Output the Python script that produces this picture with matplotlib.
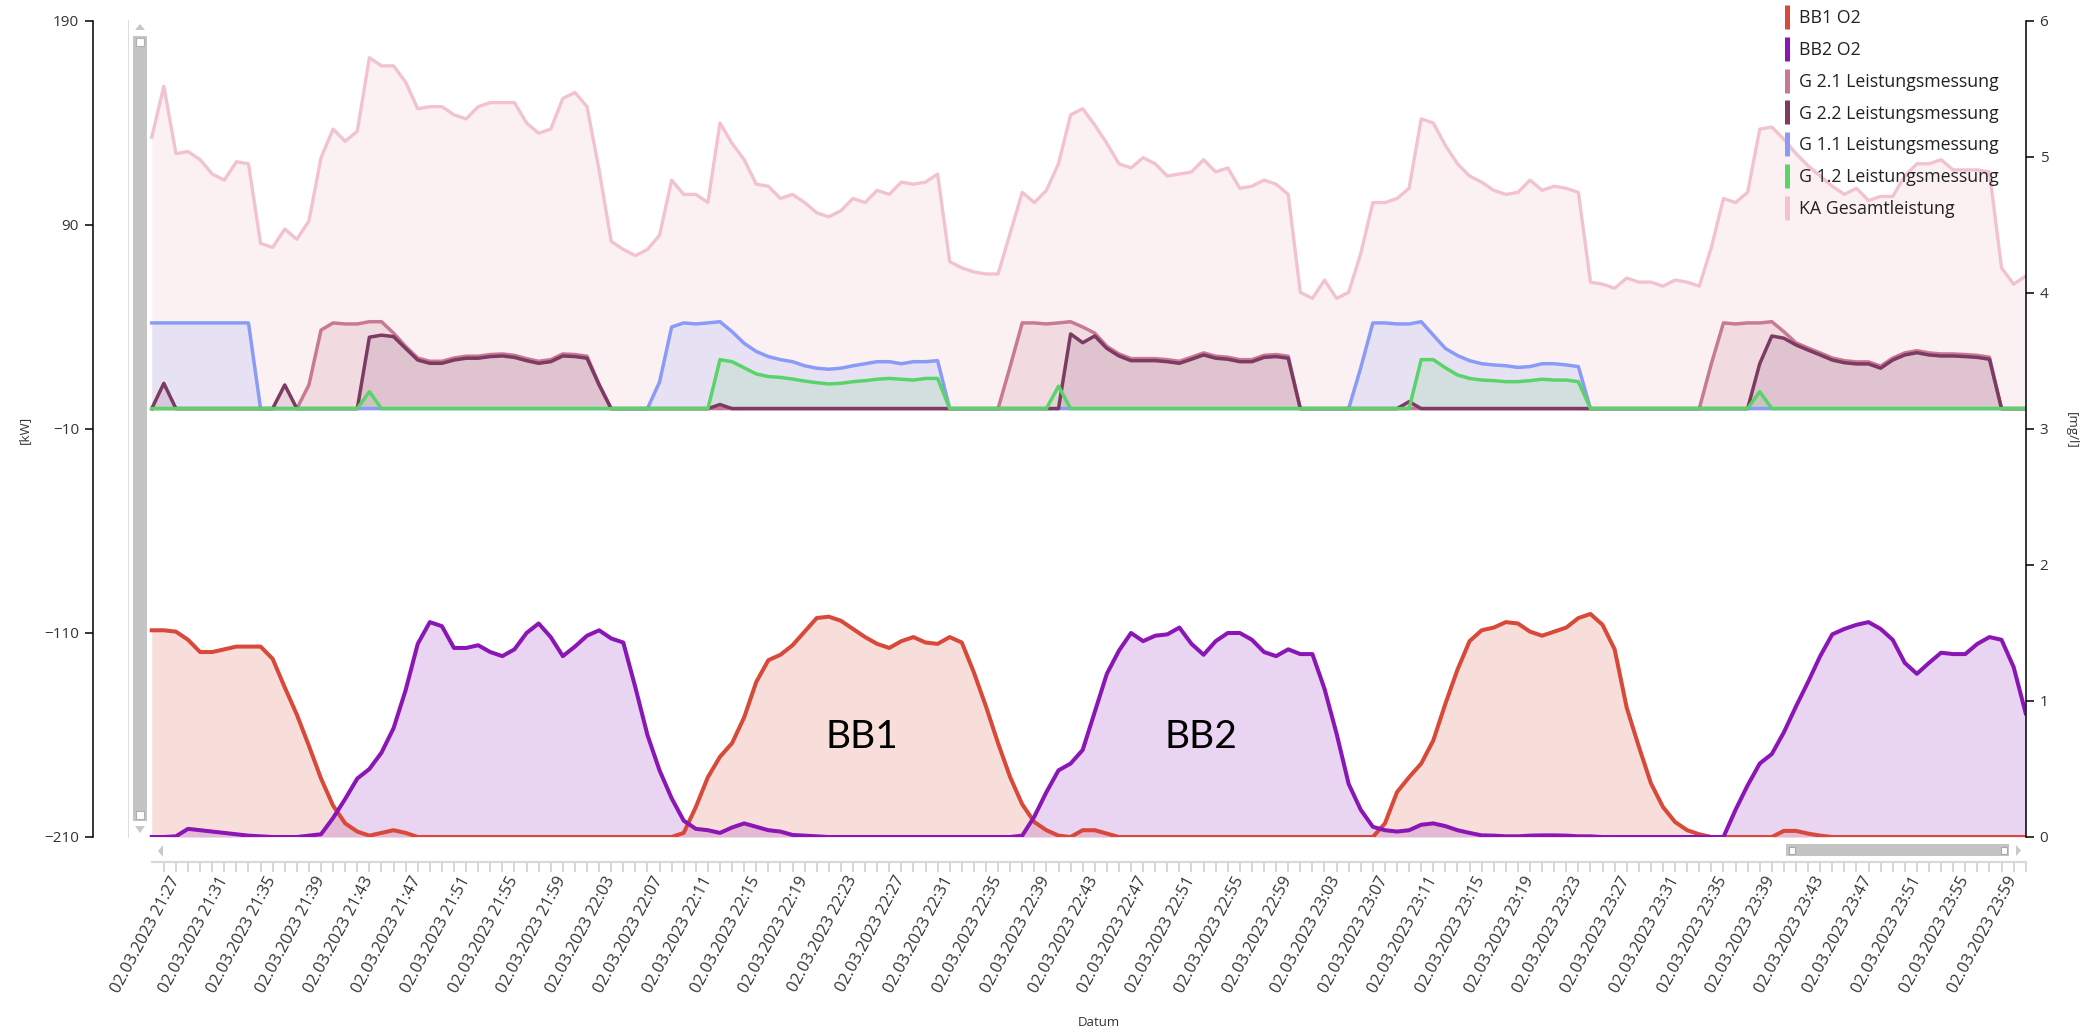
import pandas as pd
import matplotlib
matplotlib.use("Agg")
import matplotlib.pyplot as plt
import matplotlib.dates as mdates
from matplotlib.lines import Line2D
from matplotlib.patches import Rectangle, Polygon
from matplotlib.ticker import FixedLocator

plt.rcParams["font.family"] = ["Open Sans", "DejaVu Sans"]

# Messwerte, 1 Wert pro Minute ab 02.03.2023 21:25
zeit = pd.date_range("2023-03-02 21:25", periods=156, freq="min")

ka_gesamt = [133, 158, 125, 126, 122, 115, 112, 121, 120, 81,
             79, 88, 83, 92, 123, 137, 131, 136, 172, 168,
             168, 160, 147, 148, 148, 144, 142, 148, 150, 150,
             150, 140, 135, 137, 152, 155, 148, 117, 82, 78,
             75, 78, 85, 112, 105, 105, 101, 140, 130, 122,
             110, 109, 103, 105, 101, 96, 94, 97, 103, 101,
             107, 105, 111, 110, 111, 115, 72, 69, 67, 66,
             66, 86, 106, 101, 107, 120, 144, 147, 139, 130,
             120, 118, 123, 120, 114, 115, 116, 122, 116, 118,
             108, 109, 112, 110, 105, 57, 54, 63, 54, 57,
             76, 101, 101, 103, 108, 142, 140, 129, 120, 114,
             111, 107, 105, 106, 112, 107, 109, 108, 106, 62,
             61, 59, 64, 62, 62, 60, 63, 62, 60, 79,
             103, 101, 106, 137, 138, 132, 125, 119, 114, 109,
             105, 108, 102, 104, 104, 114, 120, 120, 122, 117,
             117, 117, 116, 69, 61, 65]

g11 = ([42] * 9 + [0] * 33
       + [13, 40, 42, 41.5, 42, 42.6, 37.7, 32, 28, 25.5,
          24, 23, 21, 19.8, 19.3, 19.8, 21, 22, 23, 23,
          22, 23, 23, 23.5]
       + [0] * 34
       + [20, 42, 42, 41.5, 41.5, 42.6, 36, 29.5, 26, 23.5,
          22, 21.4, 21, 20.2, 20.6, 22, 22, 21.4, 20.6]
       + [0] * 37)

g12 = ([0] * 18 + [8.3] + [0] * 28
       + [24, 23, 20, 17, 15.7, 15.3, 14.5, 13.5, 12.7, 12.1,
          12.4, 13.2, 13.7, 14.4, 14.8, 14.4, 14, 14.8, 14.8]
       + [0] * 9 + [11] + [0] * 29
       + [24, 24, 20, 16.5, 14.8, 14, 13.7, 13.2, 13.2, 13.7,
          14.4, 14, 14, 13.2]
       + [0] * 14 + [8.3] + [0] * 22)

g21 = ([0] * 13
       + [11.6, 38.5, 42, 41.5, 41.5, 42.6, 42.6, 37, 30.5, 24.8,
          23.2, 23.2, 24.8, 25.7, 25.7, 26.5, 26.8, 26.1, 24.5, 23.2,
          24, 26.8, 26.5, 25.7, 12]
       + [0] * 33
       + [20.6, 42, 42, 41.5, 42, 42.6, 40, 37, 30.5, 26.8,
          24.5, 24.5, 24.5, 24, 23.2, 25.2, 27.3, 25.7, 25.2, 24,
          24, 26.1, 26.5, 25.7]
       + [0] * 34
       + [22, 42, 41.5, 42, 42, 42.6, 37.7, 32.2, 29.7, 27.3,
          24.8, 23.5, 22.9, 22.9, 20.8, 24.8, 27.3, 28.4, 27.3, 26.8,
          26.8, 26.5, 26.1, 25.2]
       + [0] * 3)

g22 = ([0, 12.4] + [0] * 9 + [11.6] + [0] * 6
       + [35, 36, 35.3, 29.5, 23.8, 22.2, 22.2, 23.8, 24.7, 24.7,
          25.5, 25.8, 25.1, 23.5, 22.2, 23, 25.8, 25.5, 24.7, 11.6]
       + [0] * 9 + [2] + [0] * 28
       + [36.6, 32.3, 35.6, 29.5, 25.8, 23.5, 23.5, 23.5, 23, 22.2,
          24.2, 26.3, 24.7, 24.2, 23, 23, 25.1, 25.5, 24.7]
       + [0] * 9 + [3.4] + [0] * 28
       + [22, 35.6, 34.5, 31.2, 28.7, 26.3, 23.8, 22.5, 21.9, 21.9,
          19.8, 23.8, 26.3, 27.4, 26.3, 25.8, 25.8, 25.5, 25.1, 24.2]
       + [0] * 3)

bb1_o2 = [1.52, 1.52, 1.51, 1.45, 1.36, 1.36, 1.38, 1.40, 1.40, 1.40,
          1.31, 1.10, 0.90, 0.67, 0.43, 0.23, 0.10, 0.04, 0.01, 0.03,
          0.05, 0.03, 0, 0, 0, 0, 0, 0, 0, 0,
          0, 0, 0, 0, 0, 0, 0, 0, 0, 0,
          0, 0, 0, 0, 0.03, 0.22, 0.44, 0.59, 0.69, 0.88,
          1.14, 1.30, 1.34, 1.41, 1.51, 1.61, 1.62, 1.59, 1.53, 1.47,
          1.42, 1.39, 1.44, 1.47, 1.43, 1.42, 1.47, 1.43, 1.21, 0.96,
          0.69, 0.44, 0.24, 0.11, 0.05, 0.01, 0, 0.05, 0.05, 0.025,
          0, 0, 0, 0, 0, 0, 0, 0, 0, 0,
          0, 0, 0, 0, 0, 0, 0, 0, 0, 0,
          0, 0, 0.10, 0.33, 0.44, 0.54, 0.71, 0.98, 1.23, 1.44,
          1.52, 1.54, 1.58, 1.57, 1.51, 1.48, 1.51, 1.54, 1.61, 1.64,
          1.56, 1.38, 0.95, 0.665, 0.395, 0.22, 0.11, 0.05, 0.02, 0,
          0, 0, 0, 0, 0, 0.045, 0.045, 0.025, 0.01, 0,
          0, 0, 0, 0, 0, 0, 0, 0, 0, 0,
          0, 0, 0, 0, 0, 0]

bb2_o2 = [0, 0, 0.005, 0.06, 0.05, 0.04, 0.03, 0.02, 0.01, 0.005,
          0, 0, 0, 0.01, 0.02, 0.14, 0.28, 0.43, 0.50, 0.62,
          0.80, 1.08, 1.42, 1.58, 1.55, 1.39, 1.39, 1.41, 1.36, 1.33,
          1.38, 1.50, 1.57, 1.47, 1.33, 1.40, 1.48, 1.52, 1.46, 1.43,
          1.10, 0.75, 0.49, 0.285, 0.12, 0.06, 0.05, 0.03, 0.07, 0.10,
          0.075, 0.05, 0.04, 0.015, 0.01, 0.005, 0, 0, 0, 0,
          0, 0, 0, 0, 0, 0, 0, 0, 0, 0,
          0, 0, 0.01, 0.15, 0.33, 0.49, 0.54, 0.64, 0.92, 1.20,
          1.37, 1.50, 1.44, 1.48, 1.49, 1.54, 1.42, 1.34, 1.44, 1.50,
          1.50, 1.45, 1.36, 1.33, 1.38, 1.345, 1.345, 1.09, 0.76, 0.39,
          0.20, 0.075, 0.05, 0.04, 0.05, 0.09, 0.10, 0.08, 0.05, 0.03,
          0.012, 0.01, 0.005, 0.005, 0.01, 0.012, 0.012, 0.01, 0.005, 0.005,
          0, 0, 0, 0, 0, 0, 0, 0, 0, 0,
          0, 0.20, 0.38, 0.54, 0.61, 0.77, 0.96, 1.14, 1.33, 1.49,
          1.53, 1.56, 1.58, 1.53, 1.45, 1.28, 1.20, 1.28, 1.355, 1.345,
          1.345, 1.42, 1.47, 1.45, 1.25, 0.91]

namen = ["BB1 O2", "BB2 O2", "G 2.1 Leistungsmessung", "G 2.2 Leistungsmessung",
         "G 1.1 Leistungsmessung", "G 1.2 Leistungsmessung", "KA Gesamtleistung"]
farben = ["#d9493a", "#8a16b5", "#c97a93", "#7d3a62", "#8a9bf7", "#5bd36b", "#f2c3cf"]
c_bb1, c_bb2, c_g21, c_g22, c_g11, c_g12, c_ka = farben

W, H = 2093, 1032
x = mdates.date2num(zeit.to_pydatetime())

fig = plt.figure(figsize=(W / 100, H / 100), dpi=100)
ax = fig.add_axes([93 / W, 1 - 837 / H, (2025.7 - 93) / W, (837 - 21) / H])
ax2 = ax.twinx()

# Leistungen [kW]
ax.fill_between(x, 0, ka_gesamt, color=c_ka, alpha=0.23, lw=0, zorder=1)
ax.plot(x, ka_gesamt, color=c_ka, lw=2.4, zorder=2)
for werte, farbe, a in [(g11, c_g11, 0.17), (g21, c_g21, 0.18), (g22, c_g22, 0.15), (g12, c_g12, 0.15)]:
    ax.fill_between(x, 0, werte, color=farbe, alpha=a, lw=0, zorder=3)
for werte, farbe in [(g11, c_g11), (g21, c_g21), (g22, c_g22), (g12, c_g12)]:
    ax.plot(x, werte, color=farbe, lw=2.5, zorder=4)

# Sauerstoff [mg/l]
ax2.fill_between(x, 0, bb1_o2, color=c_bb1, alpha=0.18, lw=0)
ax2.fill_between(x, 0, bb2_o2, color=c_bb2, alpha=0.18, lw=0)
ax2.plot(x, bb1_o2, color=c_bb1, lw=2.9)
ax2.plot(x, bb2_o2, color=c_bb2, lw=2.9)

ax2.text(mdates.date2num(pd.Timestamp("2023-03-02 22:23:45")), 0.735, "BB1",
         fontsize=28, family="Lato", ha="center", va="center")
ax2.text(mdates.date2num(pd.Timestamp("2023-03-02 22:51:48")), 0.735, "BB2",
         fontsize=28, family="Lato", ha="center", va="center")

# Achsen
ax.set_xlim(x[0] - 4.86 / 1440, x[-1])
ax.set_ylim(-210, 190)
ax.set_yticks([190, 90, -10, -110, -210])
ax2.set_ylim(0, 6)
ax2.set_yticks(range(7))

for s in ["top", "right"]:
    ax.spines[s].set_visible(False)
for s in ["top", "left", "bottom"]:
    ax2.spines[s].set_visible(False)
ax.spines["left"].set_linewidth(1.1)
ax2.spines["right"].set_linewidth(1.1)

ax.spines["bottom"].set_position(("outward", 18))
ax.spines["bottom"].set_bounds(x[0], x[-1])
ax.spines["bottom"].set_color("#d9d9d9")
ax.spines["bottom"].set_linewidth(1.6)

haupt = [i for i, t in enumerate(zeit) if t.minute % 4 == 3]
ax.set_xticks(x[haupt])
ax.set_xticklabels([zeit[i].strftime("%d.%m.%Y %H:%M") for i in haupt],
                   rotation=62, ha="right", va="center", rotation_mode="anchor")
ax.xaxis.set_minor_locator(FixedLocator(x[1:]))
ax.tick_params(axis="x", which="both", direction="out", length=7, width=1.2,
               color="#cfcfcf", labelsize=11.8, labelcolor="#333333", pad=4)
for a in (ax, ax2):
    a.tick_params(axis="y", direction="out", length=6, width=1.1, color="black",
                  labelsize=11, labelcolor="#333333", pad=4)

fig.text(24 / W, 1 - 430 / H, "[kW]", rotation=90, ha="center", va="center", fontsize=9.5, color="#333333")
fig.text(2071 / W, 1 - 430 / H, "[mg/l]", rotation=270, ha="center", va="center", fontsize=9.5, color="#333333")
fig.text(1099 / W, 1 - 1022 / H, "Datum", ha="center", va="center", fontsize=9.5, color="#333333")

# Legende
handles = [Line2D([], [], color=c, lw=0, marker="|", markersize=17, markeredgewidth=3.6) for c in farben]
leg = ax2.legend(handles, namen, loc="upper left", bbox_to_anchor=(1782 / W, 1 - 9 / H),
                 bbox_transform=fig.transFigure, frameon=False, fontsize=12.8,
                 handlelength=0.6, handletextpad=0.35, labelspacing=0.78,
                 borderpad=0, borderaxespad=0)
for t in leg.get_texts():
    t.set_color("#222222")


# Scrollleisten
def fig_rect(x0, y0, x1, y1, **kw):
    fig.add_artist(Rectangle((x0 / W, 1 - y1 / H), (x1 - x0) / W, (y1 - y0) / H,
                             transform=fig.transFigure, **kw))


def fig_tri(punkte, **kw):
    fig.add_artist(Polygon([(px / W, 1 - py / H) for px, py in punkte], closed=True,
                           transform=fig.transFigure, lw=0, **kw))


fig_rect(127.5, 20, 129, 838, color="#dddddd", lw=0)
fig_rect(133, 36, 147, 821, color="#c4c4c4", lw=0)
fig_rect(136, 38, 144, 46, facecolor="white", edgecolor="#b0b0b0", lw=0.8)
fig_rect(136, 811, 144, 819, facecolor="white", edgecolor="#b0b0b0", lw=0.8)
fig_tri([(135, 30), (145, 30), (140, 24)], color="#c8c8c8")
fig_tri([(135, 826), (145, 826), (140, 833)], color="#c8c8c8")

fig_rect(1786, 844, 2009, 856, color="#c4c4c4", lw=0)
fig_rect(1789, 847, 1795, 854, facecolor="white", edgecolor="#a8a8a8", lw=0.8)
fig_rect(2001, 847, 2007, 854, facecolor="white", edgecolor="#a8a8a8", lw=0.8)
fig_tri([(2016, 845), (2016, 856), (2021, 850.5)], color="#c8c8c8")
fig_tri([(163, 845), (163, 857), (158, 851)], color="#c8c8c8")

fig.savefig("out.png", dpi=100, facecolor="white")
